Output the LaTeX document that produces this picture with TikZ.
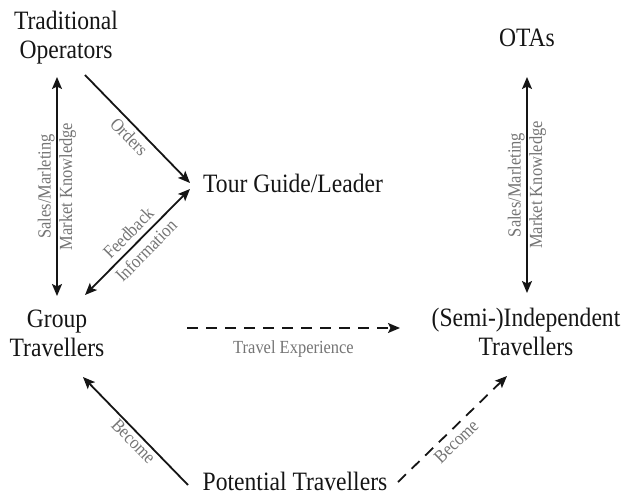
\documentclass[tikz,border=0pt]{standalone}
\usepackage{fontspec}
\setmainfont{Liberation Serif}
\newfontfamily\actorfont[FakeStretch=0.89]{Liberation Serif}
\newfontfamily\labelfont[FakeStretch=0.89]{Liberation Serif}
\usetikzlibrary{arrows.meta}
\definecolor{ink}{HTML}{151515}
\definecolor{note}{HTML}{747474}
\begin{document}
\begin{tikzpicture}[x=1pt,y=-1pt,
  actor/.style={font=\actorfont\fontsize{26.5}{29}\selectfont, text=ink, align=center, inner sep=0pt, anchor=base},
  lbl/.style={font=\labelfont\fontsize{18.5}{20}\selectfont, text=note, inner sep=1.5pt},
  tip/.tip={Stealth[length=12pt,width=10pt,inset=2.5pt]},
  link/.style={line width=1.8pt, draw=ink, -tip},
  both/.style={line width=1.8pt, draw=ink, tip-tip},
  dlink/.style={link, dash pattern=on 11pt off 8pt}]
\useasboundingbox (0,0) rectangle (625,498);

% actors (base anchor sits on the last line of each label)
\node[actor] (trad) at (66,58.3) {Traditional\\Operators};
\node[actor] (ota) at (527,46) {OTAs};
\node[actor, anchor=base west] (guide) at (203,192) {Tour Guide/Leader};
\node[actor] (group) at (57,356) {Group\\Travellers};
\node[actor] (indep) at (526,355.5) {(Semi-)Independent\\Travellers};
\node[actor] (pot) at (295,490) {Potential Travellers};

% connector ends
\coordinate (tradS) at (57,77);
\coordinate (groupN) at (57,296);
\coordinate (tradE) at (85,75);
\coordinate (guideW1) at (190,183);
\coordinate (guideW2) at (190,189);
\coordinate (groupNE) at (85,295);
\coordinate (otaS) at (527,77);
\coordinate (indepN) at (527,293);
\coordinate (groupE) at (187,328);
\coordinate (indepW) at (400,328);
\coordinate (potW) at (188,485);
\coordinate (groupSE) at (83,377);
\coordinate (potE) at (398,482);
\coordinate (indepSW) at (507,376);

% connectors
\draw[both] (tradS) -- node[lbl, rotate=90, above] {Sales/Marleting}
                       node[lbl, rotate=90, below] {Market Knowledge} (groupN);
\draw[link] (tradE) -- node[lbl, sloped, below=2.5pt] {Orders} (guideW1);
\draw[both] (groupNE) -- node[lbl, sloped, above=4pt] {Feedback}
                         node[lbl, sloped, below=3pt] {Information} (guideW2);
\draw[both] (otaS) -- node[lbl, rotate=90, above] {Sales/Marleting}
                      node[lbl, rotate=90, below] {Market Knowledge} (indepN);
\draw[dlink] (groupE) -- node[lbl, below=10pt] {Travel Experience} (indepW);
\draw[link] (potW) -- node[lbl, sloped, below, pos=0.46] {Become} (groupSE);
\draw[dlink] (potE) -- node[lbl, sloped, below=3pt, pos=0.46] {Become} (indepSW);
\end{tikzpicture}
\end{document}
